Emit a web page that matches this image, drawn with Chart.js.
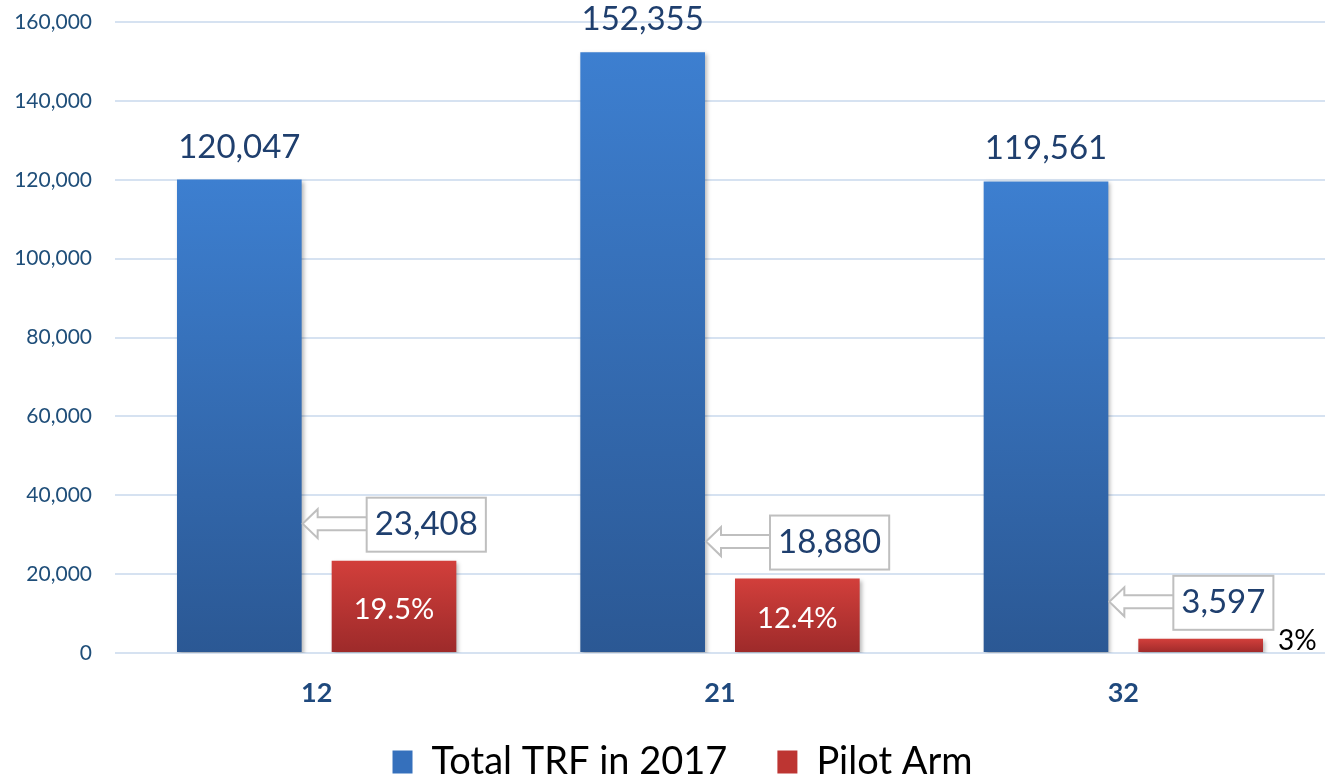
<!DOCTYPE html>
<html>
<head>
<meta charset="utf-8">
<script src="https://cdn.jsdelivr.net/npm/chart.js@4.4.1/dist/chart.umd.min.js"></script>
<style>
  html, body { margin: 0; padding: 0; background: #fff; }
  #wrap { width: 1325px; height: 780px; position: relative; }
</style>
</head>
<body>
<div id="wrap"><canvas id="chart"></canvas></div>
<script>
// data
const categories = ['12', '21', '32'];
const totalTRF = [120047, 152355, 119561];
const pilotArm = [23408, 18880, 3597];
const pilotShare = ['19.5%', '12.4%', '3%'];
const seriesNames = ['Total TRF in 2017', 'Pilot Arm'];
const yTicks = [0, 20000, 40000, 60000, 80000, 100000, 120000, 140000, 160000];

const FONT = "Lato, 'Open Sans', sans-serif";
const navy = '#1F3F6E';
const tickBlue = '#1F4E79';

const fmt = v => v.toLocaleString('en-US');

// vertical gradient over the bar itself
function barGradient(top, bottom) {
    return function(c) {
        const chart = c.chart;
        if (!chart.chartArea || c.raw == null) return top;
        const y = chart.scales.y;
        const y0 = y.getPixelForValue(c.raw);
        const y1 = y.getPixelForValue(0);
        const g = chart.ctx.createLinearGradient(0, y0, 0, y1);
        g.addColorStop(0, top);
        g.addColorStop(1, bottom);
        return g;
    };
}

// light drop shadow under bars
const barShadow = {
    id: 'barShadow',
    beforeDatasetDraw(chart) {
        const ctx = chart.ctx;
        ctx.save();
        ctx.shadowColor = 'rgba(0,0,0,0.28)';
        ctx.shadowBlur = 4;
        ctx.shadowOffsetX = 2;
        ctx.shadowOffsetY = 2;
    },
    afterDatasetDraw(chart) {
        chart.ctx.restore();
    }
};

// legend: wide gap between items, but a short box nudged into place
const legendFit = {
    id: 'legendFit',
    afterInit(chart) {
        const lg = chart.legend;
        const fit = lg.fit;
        const draw = lg.draw;
        lg.fit = function() {
            fit.call(this);
            this.height = 67;
        };
        lg.draw = function() {
            this.top -= 20; this.left += 20; this.right += 20;
            draw.call(this);
            this.top += 20; this.left -= 20; this.right -= 20;
        };
    }
};

// value labels, callout arrows and percent labels
const barLabels = {
    id: 'barLabels',
    afterDatasetsDraw(chart) {
        const ctx = chart.ctx;
        const blue = chart.getDatasetMeta(0).data;
        const red = chart.getDatasetMeta(1).data;
        ctx.save();

        // numbers above the blue bars
        ctx.font = '33px ' + FONT;
        ctx.fillStyle = navy;
        ctx.textAlign = 'center';
        ctx.textBaseline = 'alphabetic';
        blue.forEach((bar, i) => {
            ctx.fillText(fmt(totalTRF[i]), bar.x, bar.y - 22);
        });

        // callout boxes with left pointing block arrow
        red.forEach((bar, i) => {
            const b = blue[i];
            const txt = fmt(pilotArm[i]);
            ctx.font = '33px ' + FONT;
            const tw = ctx.measureText(txt).width;
            const boxW = tw + 16, boxH = 54;
            const left = bar.x - bar.width / 2 + 35;
            const bottom = bar.y - 9;
            const top = bottom - boxH;
            const cy = top + boxH / 2 - 1;
            const tipX = b.x + b.width / 2 + 1;
            const headX = tipX + 15;

            ctx.beginPath();
            ctx.moveTo(tipX, cy);
            ctx.lineTo(headX, cy - 14.5);
            ctx.lineTo(headX, cy - 6.5);
            ctx.lineTo(left + 2, cy - 6.5);
            ctx.lineTo(left + 2, cy + 6.5);
            ctx.lineTo(headX, cy + 6.5);
            ctx.lineTo(headX, cy + 14.5);
            ctx.closePath();
            ctx.fillStyle = '#fff';
            ctx.fill();
            ctx.strokeStyle = '#BFBFBF';
            ctx.lineWidth = 2;
            ctx.stroke();

            ctx.fillStyle = '#fff';
            ctx.fillRect(left, top, boxW, boxH);
            ctx.strokeRect(left, top, boxW, boxH);

            ctx.fillStyle = navy;
            ctx.textAlign = 'center';
            ctx.textBaseline = 'middle';
            ctx.fillText(txt, left + boxW / 2, cy + 1);
        });

        // share labels on the red bars
        red.forEach((bar, i) => {
            const h = bar.base - bar.y;
            if (h > 40) {
                ctx.font = '29px ' + FONT;
                ctx.fillStyle = '#fff';
                ctx.textAlign = 'center';
                ctx.textBaseline = 'middle';
                ctx.fillText(pilotShare[i], bar.x, bar.y + h / 2 + 3);
            } else {
                ctx.font = '28px ' + FONT;
                ctx.fillStyle = '#000';
                ctx.textAlign = 'left';
                ctx.textBaseline = 'middle';
                ctx.fillText(pilotShare[i], bar.x + bar.width / 2 + 15, bar.y + 2);
            }
        });
        ctx.restore();
    }
};

new Chart(document.getElementById('chart'), {
    type: 'bar',
    data: {
        labels: categories,
        datasets: [
            { label: seriesNames[0], data: totalTRF, backgroundColor: barGradient('#3D7FD0', '#2B5894') },
            { label: seriesNames[1], data: pilotArm, backgroundColor: barGradient('#D23F3B', '#9D2A2A') }
        ]
    },
    options: {
        responsive: true,
        maintainAspectRatio: false,
        animation: false,
        categoryPercentage: 0.767,
        barPercentage: 0.806,
        layout: { padding: { left: 0, right: 0, top: 22, bottom: 0 } },
        scales: {
            x: {
                grid: { display: false, drawTicks: false },
                border: { display: false },
                afterFit: axis => { axis.height = 60; axis.paddingLeft = 0; axis.paddingRight = 0; },
                ticks: { color: '#1F497D', font: { family: FONT, size: 27, weight: 'bold' }, padding: 24 }
            },
            y: {
                min: 0,
                max: 160000,
                afterBuildTicks: axis => { axis.ticks = yTicks.map(v => ({ value: v })); },
                afterFit: axis => { axis.width = 115; axis.paddingTop = 0; axis.paddingBottom = 0; },
                grid: { color: '#D6E2F1', lineWidth: 2, drawTicks: false },
                border: { display: false },
                ticks: { color: tickBlue, font: { family: FONT, size: 21 }, padding: 23, callback: v => fmt(v) }
            }
        },
        plugins: {
            legend: {
                position: 'bottom',
                labels: {
                    color: tickBlue,
                    font: { family: FONT, size: 38 },
                    boxWidth: 20,
                    boxHeight: 23,
                    padding: 50,
                    generateLabels: chart => seriesNames.map((n, i) => ({
                        text: n,
                        fillStyle: i === 0 ? '#3570BC' : '#BD3532',
                        strokeStyle: 'transparent',
                        lineWidth: 0,
                        datasetIndex: i
                    }))
                }
            },
            tooltip: { enabled: false }
        }
    },
    plugins: [legendFit, barShadow, barLabels]
});
</script>
</body>
</html>
